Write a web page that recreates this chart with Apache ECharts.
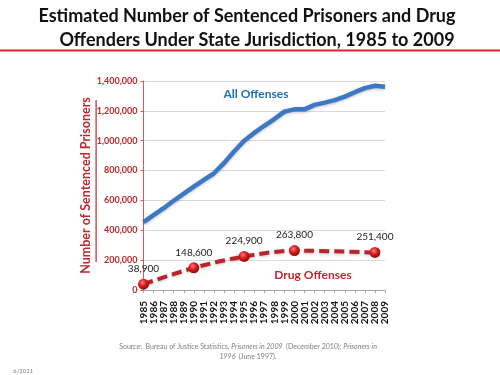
<!DOCTYPE html>
<html>
<head>
<meta charset="utf-8">
<script src="https://cdn.jsdelivr.net/npm/echarts@6/dist/echarts.min.js"></script>
<style>
  html, body { margin: 0; padding: 0; background: #fff; }
  #chart { width: 500px; height: 375px; }
</style>
</head>
<body>
<div id="chart"></div>
<script>
// years on the x axis
const years = ['1985', '1986', '1987', '1988', '1989', '1990', '1991', '1992', '1993', '1994',
  '1995', '1996', '1997', '1998', '1999', '2000', '2001', '2002', '2003', '2004',
  '2005', '2006', '2007', '2008', '2009'];
// all offenses
const allOffenses = [455000, 502000, 548000, 598000, 645000, 692000, 737000, 782000, 850000, 928000,
  1000000, 1052000, 1100000, 1145000, 1195000, 1210000, 1210000, 1240000, 1255000, 1272000,
  1295000, 1325000, 1352000, 1368000, 1362000];
// drug offenses, only the labelled years
const drugOffenses = [38900, null, null, null, null, 148600, null, null, null, null,
  224900, null, null, null, null, 263800, null, null, null, null,
  null, null, null, 251400, null];
// y axis ticks
const yMax = 1400000;
const yStep = 200000;

const red = '#c0282d';
const blue = '#3d78c4';

const fmt = v => v.toLocaleString('en-US');

const chart = echarts.init(document.getElementById('chart'));

const option = {
  animation: false,
  grid: { left: 143.5, right: 115, top: 81, bottom: 85 },
  xAxis: {
    type: 'category',
    data: years,
    boundaryGap: false,
    axisLine: { lineStyle: { color: '#a6a6a6', width: 1 } },
    axisTick: { show: true, length: 3, alignWithLabel: true, lineStyle: { color: '#a6a6a6' } },
    axisLabel: {
      rotate: 90,
      interval: 0,
      margin: 11,
      color: '#111',
      fontWeight: 'bold',
      fontSize: 10,
      fontFamily: 'Lato'
    },
    splitLine: { show: false }
  },
  yAxis: {
    type: 'value',
    min: 0,
    max: yMax,
    interval: yStep,
    name: 'Number of Sentenced Prisoners',
    nameLocation: 'middle',
    nameRotate: 90,
    nameGap: 35,
    nameTextStyle: { color: red, fontWeight: 'bold', fontSize: 12.5, fontFamily: 'Lato' },
    axisLine: { show: true, lineStyle: { color: '#d05a5e', width: 1 } },
    axisTick: { show: true, length: 3, lineStyle: { color: '#d05a5e' } },
    axisLabel: {
      margin: 6,
      color: red,
      fontWeight: 'bold',
      fontSize: 9,
      fontFamily: 'Lato',
      formatter: fmt
    },
    splitLine: { lineStyle: { color: '#d9d9d9', width: 1 } }
  },
  series: [
    {
      name: 'All Offenses',
      type: 'line',
      data: allOffenses,
      symbol: 'none',
      lineStyle: { color: blue, width: 4.5, shadowColor: 'rgba(0,0,0,0.25)', shadowBlur: 3, shadowOffsetY: 1 },
      z: 3
    },
    {
      name: 'Drug Offenses',
      type: 'line',
      data: drugOffenses,
      connectNulls: true,
      smooth: 0.3,
      symbol: 'circle',
      symbolSize: 11,
      itemStyle: {
        color: new echarts.graphic.RadialGradient(0.4, 0.35, 0.7, [
          { offset: 0, color: '#ff7a7a' },
          { offset: 0.5, color: '#d01a1a' },
          { offset: 1, color: '#8a0a0a' }
        ])
      },
      lineStyle: { color: '#b8262b', width: 4, type: [10, 5], shadowColor: 'rgba(0,0,0,0.25)', shadowBlur: 3, shadowOffsetY: 1 },
      label: {
        show: true,
        position: 'top',
        distance: 5,
        color: '#222',
        fontSize: 10,
        fontFamily: 'Lato',
        formatter: p => fmt(p.value)
      },
      z: 4
    }
  ],
  graphic: [
    {
      type: 'text', x: 247, y: 16,
      style: { text: 'Estimated Number of Sentenced Prisoners and Drug', fill: '#111', font: 'bold 18px Lato', textAlign: 'center', textVerticalAlign: 'middle' }
    },
    {
      type: 'text', x: 257, y: 40,
      style: { text: 'Offenders Under State Jurisdiction, 1985 to 2009', fill: '#111', font: 'bold 18px Lato', textAlign: 'center', textVerticalAlign: 'middle' }
    },
    { type: 'rect', shape: { x: 0, y: 49.5, width: 500, height: 2 }, style: { fill: '#d9262e' } },
    // underline of the y axis title
    { type: 'rect', shape: { x: 95.5, y: 100, width: 1.2, height: 162 }, style: { fill: red } },
    {
      type: 'text', x: 256, y: 94,
      style: { text: 'All Offenses', fill: '#1f6fb2', font: 'bold 12px Lato', textAlign: 'center', textVerticalAlign: 'middle' }
    },
    {
      type: 'text', x: 313, y: 275,
      style: { text: 'Drug Offenses', fill: red, font: 'bold 12px Lato', textAlign: 'center', textVerticalAlign: 'middle' }
    },
    {
      type: 'text', x: 248, y: 347,
      style: {
        text: '{n|Source:  Bureau of Justice Statistics, }{i|Prisoners in 2009}{n|  (December 2010); }{i|Prisoners in}',
        textAlign: 'center', textVerticalAlign: 'middle',
        rich: {
          n: { fill: '#808080', fontSize: 7, fontFamily: 'Lato' },
          i: { fill: '#808080', fontSize: 7, fontFamily: 'Lato', fontStyle: 'italic' }
        }
      }
    },
    {
      type: 'text', x: 248, y: 357,
      style: {
        text: '{i|1996} {n|(June 1997).}',
        textAlign: 'center', textVerticalAlign: 'middle',
        rich: {
          n: { fill: '#808080', fontSize: 7, fontFamily: 'Lato' },
          i: { fill: '#808080', fontSize: 7, fontFamily: 'Lato', fontStyle: 'italic' }
        }
      }
    },
    {
      type: 'text', x: 13, y: 371,
      style: { text: '6/2011', fill: '#808080', font: '6px Lato', textVerticalAlign: 'middle' }
    }
  ]
};

chart.setOption(option);
</script>
</body>
</html>
